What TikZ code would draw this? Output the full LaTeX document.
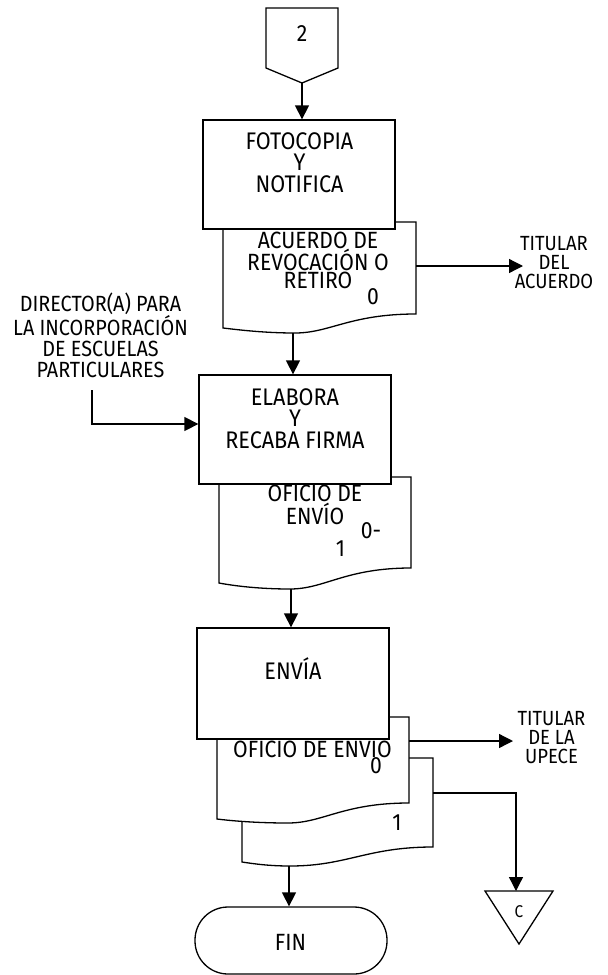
\documentclass[tikz,border=0pt]{standalone}
\usepackage{fontspec}
\setmainfont{Fira Sans}[FakeStretch=0.9]
\usetikzlibrary{arrows.meta,calc}
\tikzset{
  ln/.style={line width=1.3pt},
  arr/.style={ln,-{Triangle[length=14pt,width=14pt]}},
  proc/.style={ln,draw,fill=white,rectangle,minimum width=192pt,inner sep=0pt},
  doc/.style={ln,draw,fill=white},
  big/.style={font=\fontsize{24}{21.5}\selectfont,align=center,inner sep=0pt},
  dirtxt/.style={font=\fontsize{22}{20.8}\selectfont,align=center,inner sep=0pt},
  small/.style={font=\fontsize{23.5}{17.5}\selectfont,align=center,inner sep=0pt},
  tit/.style={font=\fontsize{20.5}{18.6}\selectfont,align=center,inner sep=0pt},
  one/.style={font=\fontsize{23.5}{24}\selectfont,inner sep=0pt,anchor=base},
}
\begin{document}
\begin{tikzpicture}[x=1pt,y=-1pt]
\useasboundingbox (0,0) rectangle (608,975);
% off-page connector 2
\draw[ln] (266,8) -- (338,8) -- (338,68) -- (302,83) -- (266,68) -- cycle;
\node[one] (c2) at (302,41) {2};
\coordinate (c2b) at (302,83);
% document 1
\draw[doc] (223,222) -- (416,222) -- (416,314) .. controls (350,314) and (330,333) .. (295,333) .. controls (265,333) and (240,330) .. (223,328) -- cycle;
\coordinate (d1b) at (293,333);
\coordinate (d1r) at (416,266);
% box 1
\node[proc,minimum height=109pt] (b1) at (299,174.5) {};
\node[big] (t1) at (299.5,162.5) {FOTOCOPIA\\Y\\NOTIFICA};
\draw[arr] (c2b) -- (c2b |- b1.north);
\node[small] (d1t) at (318,260) {ACUERDO DE\\REVOCACIÓN O\\RETIRO};
\node[one] (d1n) at (373,304) {0};
\node[tit] (tit1) at (554,262.5) {TITULAR\\DEL\\ACUERDO};
\coordinate (tit1l) at (523,266);
\draw[arr] (d1r) -- (tit1l);
% director
\node[dirtxt] (dir) at (100.5,335) {DIRECTOR(A) PARA\\LA INCORPORACIÓN\\DE ESCUELAS\\PARTICULARES};
\coordinate (dirb) at (92,390);
% document 2
\draw[doc] (219,477) -- (411,477) -- (411,568) .. controls (345,568) and (325,589) .. (290,589) .. controls (260,589) and (235,586) .. (219,583) -- cycle;
\coordinate (d2b) at (291,589);
% box 2
\node[proc,minimum height=109pt] (b2) at (295,429.5) {};
\node[big] (t2) at (295,418.5) {ELABORA\\Y\\RECABA FIRMA};
\draw[arr] (d1b) -- (d1b |- b2.north);
\draw[arr] (dirb) |- (b2.west |- 0,424);
\node[small] (d2t) at (315,505) {OFICIO DE\\ENVÍO};
\node[one] (d2n) at (371,538) {0-};
\node[one] (d2m) at (340.5,556) {1};
% multi document
\draw[doc] (242,758) -- (433,758) -- (433,847) .. controls (367,847) and (347,866) .. (290,866) .. controls (270,866) and (255,864) .. (242,862) -- cycle;
\draw[doc] (217,717) -- (409,717) -- (409,803) .. controls (343,803) and (323,823) .. (288,823) .. controls (258,823) and (233,821) .. (217,819) -- cycle;
\coordinate (d3r) at (409,741);
\coordinate (d3br) at (433,793);
\coordinate (d3b) at (289,866);
% box 3
\node[proc,minimum height=111pt] (b3) at (293,683.5) {};
\node[one,font=\fontsize{24}{24}\selectfont] (t3) at (293,679) {ENVÍA};
\draw[arr] (d2b) -- (d2b |- b3.north);
\node[one] (d3t) at (312.5,757) {OFICIO DE ENVIO};
\node[one] (d3n) at (376,773) {0};
\node[one] (d3m) at (397,830) {1};
\node[tit] (tit2) at (551.5,737.5) {TITULAR\\DE LA\\UPECE};
\coordinate (tit2l) at (513,741);
\draw[arr] (d3r) -- (tit2l);
% FIN
\node[ln,draw,rounded corners=33pt,minimum width=192pt,minimum height=67pt] (fin) at (291,940.5) {};
\node[one] (fint) at (290.5,950) {FIN};
\draw[arr] (d3b) -- (d3b |- fin.north);
% off-page C
\draw[ln] (485,891) -- (553,891) -- (519,944) -- cycle;
\node[one,font=\fontsize{17}{17}\selectfont] (cc) at (519,917) {C};
\coordinate (cct) at (516,891);
\draw[arr] (d3br) -| (cct);
\end{tikzpicture}
\end{document}
